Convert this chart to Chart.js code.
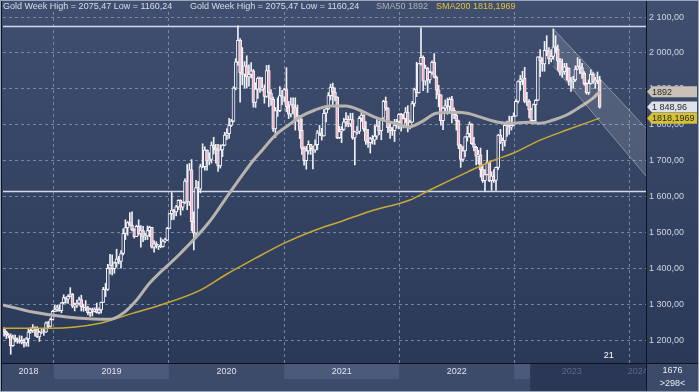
<!DOCTYPE html>
<html><head><meta charset="utf-8">
<script src="https://cdn.jsdelivr.net/npm/chart.js@4.4.0/dist/chart.umd.min.js"></script>
<style>html,body{margin:0;padding:0;background:#3e4c6b;overflow:hidden}#wrap{width:699px;height:392px}</style>
</head><body><div id="wrap"><canvas id="c" width="699" height="392"></canvas></div>
<script>
// ---- data (weekly candles, first week ending 2018-07-27) ----
const firstWeekEnd = [2018, 6, 27];
const opens = [
1231,1223,1214,1212,1184,1206,1201,1196,1194,1199,1192,1203,1222,1227,1235,1232,1209,1222,1223,1222,1248,1238,1257,
1280,1285,1289,1282,1304,1318,1314,1322,1328,1294,1298,1302,1313,1292,1291,1290,1276,1286,1280,1286,1277,1284,1305,1341,1341,1400,1409,1399,1415,1426,1419,1441,1497,1513,1527,1520,1507,1488,1517,1497,1505,1489,1490,1505,1514,1459,1468,1462,1464,1460,1476,1478,
1511,1552,1562,1557,1571,1589,1570,1584,1643,1585,1674,1530,1498,1625,1620,1683,1683,1729,1700,1703,1743,1735,1730,1685,1730,1743,1771,1775,1798,1810,1902,1975,2035,1944,1940,1964,1933,1940,1950,1862,1899,1930,1899,1902,1879,1951,1889,1871,1788,1839,1839,1881,
1877,1898,1850,1829,1856,1848,1814,1824,1784,1734,1700,1727,1745,1733,1729,1744,1777,1777,1769,1832,1844,1881,1905,1891,1877,1764,1781,1787,1808,1815,1802,1814,1763,1780,1781,1818,1827,1788,1754,1750,1761,1757,1768,1796,1783,1818,1865,1846,1792,1783,1783,1798,1809,
1829,1797,1817,1835,1791,1807,1859,1898,1889,1970,1988,1921,1958,1925,1946,1974,1932,1897,1883,1811,1846,1853,1851,1871,1840,1827,1811,1742,1703,1727,1766,1775,1802,1747,1737,1712,1716,1675,1644,1661,1695,1644,1657,1645,1681,1771,1751,1755,1798,1797,1793,1798,
1824,1865,1920,1926,1929,1865,1865,1842,1811,1856,1868,1989,1978,1969,2007,2004,1983,1990,2017,2011,1977,1946,1948,1961,1958,1921,1919,1925,1955,1962,1959,1943,1914,1889,1915,1940,1919,1924,1925];
const highs = [
1234,1225,1219,1217,1214,1214,1206,1212,1211,1203,1207,1233,1234,1243,1237,1237,1225,1230,1230,1251,1252,1261,1283,
1298,1297,1297,1305,1326,1320,1326,1346,1330,1303,1311,1320,1325,1300,1310,1294,1289,1289,1290,1303,1290,1306,1347,1358,1411,1439,1437,1418,1453,1433,1449,1510,1535,1530,1555,1557,1510,1520,1535,1519,1517,1498,1518,1517,1514,1477,1474,1466,1485,1480,1484,1514,
1553,1611,1564,1575,1591,1591,1585,1649,1689,1692,1703,1557,1645,1642,1690,1747,1738,1730,1722,1752,1765,1745,1745,1744,1745,1779,1789,1818,1815,1906,1984,2075.47,2040,2015,1976,1992,1967,1973,1954,1917,1933,1933,1932,1911,1965,1966,1898,1877,1848,1875,1906,1896,
1902,1959,1865,1875,1875,1875,1855,1826,1816,1739,1740,1755,1745,1740,1758,1784,1798,1790,1843,1846,1890,1913,1916,1903,1878,1795,1795,1818,1834,1825,1832,1832,1782,1795,1823,1834,1828,1809,1787,1765,1770,1800,1814,1810,1818,1868,1877,1848,1808,1793,1815,1815,1831,
1832,1830,1848,1853,1813,1865,1902,1974,1970,2070,1992,1966,1960,1949,1978,1998,1936,1910,1884,1849,1869,1874,1876,1879,1847,1830,1813,1745,1739,1767,1795,1808,1803,1765,1740,1729,1735,1688,1675,1729,1696,1669,1675,1682,1773,1787,1763,1804,1810,1824,1823,1833,
1870,1922,1937,1949,1960,1890,1870,1846,1858,1870,1990,2009,1986,2032,2048,2015,2009,2067,2048,2022,1985,1983,1971,1971,1958,1932,1935,1964,1987,1982,1971,1948,1917,1925,1953,1945,1932,1947,1935];
const lows = [
1211,1204,1206,1160.24,1182,1195,1191,1191,1189,1180,1183,1182,1219,1221,1211,1207,1196,1218,1213,1221,1234,1236,1256,
1279,1280,1280,1276,1301,1303,1302,1320,1290,1281,1291,1297,1281,1280,1282,1270,1266,1267,1278,1275,1273,1275,1305,1321,1338,1384,1381,1386,1403,1412,1400,1437,1480,1492,1517,1504,1484,1488,1492,1459,1474,1479,1480,1488,1456,1445,1456,1452,1457,1459,1472,1477,
1510,1535,1536,1546,1563,1548,1562,1580,1563,1575,1504,1451,1484,1567,1610,1680,1673,1673,1688,1693,1718,1693,1670,1679,1711,1741,1758,1762,1795,1807,1897,1965,1863,1911,1902,1902,1907,1930,1849,1848,1873,1890,1894,1860,1876,1850,1854,1781,1764,1823,1836,1856,
1864,1836,1817,1822,1830,1785,1809,1761,1717,1687,1676,1718,1717,1677,1723,1730,1770,1757,1768,1808,1842,1869,1856,1866,1761,1761,1750,1784,1795,1794,1795,1759,1688,1773,1775,1809,1782,1745,1737,1721,1746,1745,1760,1772,1758,1816,1840,1778,1762,1770,1753,1790,1788,
1782,1791,1805,1780,1788,1806,1851,1878,1888,1966,1895,1910,1890,1916,1940,1930,1872,1850,1799,1786,1839,1829,1836,1805,1817,1785,1733,1681,1698,1711,1754,1765,1745,1727,1688,1690,1654,1639,1615,1660,1641,1617,1639,1617,1675,1747,1728,1740,1767,1773,1785,1797,
1824,1861,1896,1911,1861,1853,1819,1805,1804,1809,1867,1934,1949,1949,1992,1969,1975,1982,2000,1952,1938,1932,1940,1925,1910,1893,1902,1921,1953,1942,1929,1910,1885,1884,1913,1915,1901,1914,1846];
const closes = [
1223,1214,1212,1184,1206,1201,1196,1194,1199,1192,1203,1222,1227,1235,1232,1209,1222,1223,1222,1248,1238,1257,1280,
1285,1289,1282,1304,1318,1314,1322,1328,1294,1298,1302,1313,1292,1291,1290,1276,1286,1280,1286,1277,1284,1305,1341,1341,1400,1409,1399,1415,1426,1419,1441,1497,1513,1527,1520,1507,1488,1517,1497,1505,1489,1490,1505,1514,1459,1468,1462,1464,1460,1476,1478,1511,
1552,1562,1557,1571,1589,1570,1584,1643,1585,1674,1530,1498,1625,1620,1683,1683,1729,1700,1703,1743,1735,1730,1685,1730,1743,1771,1775,1798,1810,1902,1975,2035,1944,1940,1964,1933,1940,1950,1862,1899,1930,1899,1902,1879,1951,1889,1871,1788,1839,1839,1881,1877,
1898,1850,1829,1856,1848,1814,1824,1784,1734,1700,1727,1745,1733,1729,1744,1777,1777,1769,1832,1844,1881,1905,1891,1877,1764,1781,1787,1808,1815,1802,1814,1763,1780,1781,1818,1827,1788,1754,1750,1761,1757,1768,1796,1783,1818,1865,1846,1792,1783,1783,1798,1809,1829,
1797,1817,1835,1791,1807,1859,1898,1889,1970,1988,1921,1958,1925,1946,1974,1932,1897,1883,1811,1846,1853,1851,1871,1840,1827,1811,1742,1703,1727,1766,1775,1802,1747,1737,1712,1716,1675,1644,1661,1695,1644,1657,1645,1681,1771,1751,1755,1798,1797,1793,1798,1824,
1865,1920,1926,1929,1865,1865,1842,1811,1856,1868,1989,1978,1969,2007,2004,1983,1990,2017,2011,1977,1946,1948,1961,1958,1921,1919,1925,1955,1962,1959,1943,1914,1889,1915,1940,1919,1924,1925,1848.96];

// moving averages (week index, price)
const sma50Weeks  = [-0.5,13,28.5,43.5,48,54,60,66,80,93,100,107,113,117,123,129,134,141,148,155,161,168,175,180,183,189,196,205,210,216,224,229,238,243,249,255,261,267,270];
const sma50Values = [1298,1278,1264,1258,1258,1275,1311,1359,1442,1529,1590,1651,1701,1729,1771,1799,1821,1841,1852,1852,1841,1821,1807,1799,1793,1807,1832,1835,1832,1821,1807,1804,1807,1804,1813,1827,1849,1874,1892];
const sma200Weeks  = [-0.5,21,43.5,58.5,70.7,89,101,114,127,140,153,166,184,193,210,222,231,243,255,270];
const sma200Values = [1233,1233,1247,1275,1297,1339,1384,1428,1470,1504,1531,1559,1590,1618,1668,1701,1721,1757,1785,1818.1969];

// trend channel and horizontal levels
const channelWeeks = [249, 291];
const channelUpper = [2067, 1790];
const channelLower = [1963, 1657];
const levelLines = [2075.47, 1614];

const yTicks = [1200,1300,1400,1500,1600,1700,1800,1900,2000,2100];
const yearLabels = [2018,2019,2020,2021,2022,2023,2024];
const legendMain = 'Gold Week High = 2075,47 Low = 1160,24';
const legendSma50 = 'SMA50 1892';
const legendSma200 = 'SMA200 1818,1969';
const tagValues = [1892, 1848.96, 1818.1969];
const tagLabels = ['1892', '1 848,96', '1818,1969'];
const cornerTop = '1676', cornerBottom = '>298<', weekNote = '21';
const scrollStartWeek = 238.5;

// ---- helpers ----
const DAY = 86400000;
const t0 = Date.UTC(firstWeekEnd[0], firstWeekEnd[1], firstWeekEnd[2]);
const weekOfYearStart = y => (Date.UTC(y, 0, 1) - t0) / (7 * DAY);
const X_MIN = -0.5, X_MAX = 291;
const FONT = '"Liberation Sans", Arial, sans-serif';
function fmt(v){const s=v.toFixed(2).split('.');return s[0].replace(/\B(?=(\d{3})+(?!\d))/g,' ')+','+s[1];}

const wickData = closes.map((c,i)=>({x:i, y:[lows[i], highs[i]]}));
const bodyData = closes.map((c,i)=>({x:i, y:[opens[i], c]}));
const bodyFill = closes.map((c,i)=> c >= opens[i] ? '#37456a' : '#f0b2c0');

const bgPlugin = {
  id:'bg',
  beforeDraw(chart){
    const {ctx} = chart;
    ctx.save();
    const g = ctx.createLinearGradient(0,0,0,363);
    g.addColorStop(0,'#404f6f'); g.addColorStop(1,'#2b3958');
    ctx.fillStyle = g; ctx.fillRect(0,0,699,363);
    ctx.fillStyle = '#3d4b6a'; ctx.fillRect(0,363,699,29);
    ctx.restore();
  },
  beforeDatasetsDraw(chart){
    const {ctx, chartArea:a, scales:{y}} = chart;
    ctx.save();
    ctx.strokeStyle = '#d3dbea'; ctx.lineWidth = 1.5;
    levelLines.forEach(v=>{
      const py = Math.round(y.getPixelForValue(v)) + 0.5;
      ctx.beginPath(); ctx.moveTo(a.left, py); ctx.lineTo(a.right, py); ctx.stroke();
    });
    ctx.restore();
  },
  afterDraw(chart){
    const {ctx, chartArea:a, scales:{x,y}} = chart;
    ctx.save();
    // bottom year band
    const bandTop = a.bottom + 1, bandH = 15;
    yearLabels.forEach((yr, i)=>{
      const s = Math.max(x.getPixelForValue(Math.max(weekOfYearStart(yr), X_MIN)), a.left);
      const e = Math.min(x.getPixelForValue(Math.min(weekOfYearStart(yr+1), X_MAX)), a.right);
      if (i % 2 === 1) { ctx.fillStyle = '#4b5a7a'; ctx.fillRect(s, bandTop, e - s, bandH); }
    });
    const sx = x.getPixelForValue(scrollStartWeek);
    ctx.fillStyle = '#2a3755'; ctx.fillRect(sx, bandTop, a.right - sx, 392 - bandTop);
    ctx.font = '9px ' + FONT; ctx.textAlign = 'center'; ctx.textBaseline = 'middle';
    ctx.save(); ctx.beginPath(); ctx.rect(0, bandTop, a.right, bandH); ctx.clip();
    yearLabels.forEach((yr)=>{
      const ws = weekOfYearStart(yr), we = weekOfYearStart(yr+1);
      const s = Math.max(x.getPixelForValue(Math.max(ws, X_MIN)), a.left);
      const e = Math.min(x.getPixelForValue(Math.min(we, X_MAX)), a.right);
      ctx.fillStyle = ws > scrollStartWeek - 10 ? '#5b6a8a' : '#dfe4ee';
      ctx.fillText(String(yr), (s + e) / 2, bandTop + 8);
    });
    ctx.restore();
    // separators
    ctx.strokeStyle = '#0e1320'; ctx.lineWidth = 1;
    ctx.beginPath(); ctx.moveTo(0, a.bottom + 0.5); ctx.lineTo(699, a.bottom + 0.5); ctx.stroke();
    ctx.beginPath(); ctx.moveTo(a.right + 0.5, 0); ctx.lineTo(a.right + 0.5, 392); ctx.stroke();
    ctx.beginPath(); ctx.moveTo(1.5, 0); ctx.lineTo(1.5, 392); ctx.stroke();
    // corner cell
    ctx.fillStyle = '#e8ecf4'; ctx.textAlign = 'center';
    ctx.fillText(cornerTop, (a.right + 699) / 2, 371);
    ctx.fillText(cornerBottom, (a.right + 699) / 2, 384);
    // week note
    ctx.fillStyle = '#ffffff';
    ctx.fillText(weekNote, x.getPixelForValue(closes.length - 1) + 9, a.bottom - 7);
    // legend
    ctx.textAlign = 'left';
    ctx.fillStyle = '#d8dde8';
    ctx.fillText(legendMain, 3, 7);
    ctx.fillText(legendMain, 190, 7);
    ctx.fillStyle = '#aeb0b4'; ctx.fillText(legendSma50, 376, 7);
    ctx.fillStyle = '#e2c23c'; ctx.fillText(legendSma200, 436, 7);
    // price tags
    const tagColors = ['#c9c1b6', '#dde1e8', '#d6c034'];
    tagValues.forEach((v, i)=>{
      const py = y.getPixelForValue(v);
      const l = a.right + 1, r = 697;
      ctx.fillStyle = tagColors[i];
      ctx.beginPath();
      ctx.moveTo(l, py); ctx.lineTo(l + 5, py - 5.5); ctx.lineTo(r, py - 5.5);
      ctx.lineTo(r, py + 5.5); ctx.lineTo(l + 5, py + 5.5); ctx.closePath(); ctx.fill();
      ctx.fillStyle = '#2a2a2a';
      ctx.fillText(tagLabels[i], l + 5, py + 0.5);
    });
    // outer frame
    ctx.strokeStyle = '#9aa6bc';
    ctx.strokeRect(0.5, 0.5, 698, 391);
    ctx.restore();
  }
};

new Chart(document.getElementById('c'), {
  type: 'bar',
  data: {
    datasets: [
      { type:'line', data: channelWeeks.map((w,i)=>({x:w, y:channelUpper[i]})), borderColor:'rgba(255,255,255,0.35)', borderWidth:1, backgroundColor:'rgba(255,255,255,0.13)', fill:'+1', pointRadius:0, order:0 },
      { type:'line', data: channelWeeks.map((w,i)=>({x:w, y:channelLower[i]})), borderColor:'rgba(255,255,255,0.35)', borderWidth:1, fill:false, pointRadius:0, order:0 },
      { type:'line', data: sma50Weeks.map((w,i)=>({x:w, y:sma50Values[i]})), borderColor:'#b7b3ae', borderWidth:3, pointRadius:0, cubicInterpolationMode:'monotone', fill:false, order:1 },
      { type:'line', data: sma200Weeks.map((w,i)=>({x:w, y:sma200Values[i]})), borderColor:'#c8aa36', borderWidth:1.5, pointRadius:0, cubicInterpolationMode:'monotone', fill:false, order:2 },
      { type:'bar', data: bodyData, backgroundColor: bodyFill, borderColor:'#f4f4f8', borderWidth:1, borderSkipped:false, barThickness:3, grouped:false, order:3 },
      { type:'bar', data: wickData, backgroundColor:'#eef0f6', barThickness:1, grouped:false, order:4 }
    ]
  },
  options: {
    responsive:false, animation:false, devicePixelRatio:1,
    layout:{ padding:{ left:3, top:12, right:0, bottom:0 } },
    plugins:{ legend:{display:false}, tooltip:{enabled:false}, title:{display:false} },
    scales:{
      x:{ type:'linear', min:X_MIN, max:X_MAX, offset:false,
        afterBuildTicks(s){ s.ticks = yearLabels.slice(1).map(yr=>({value: weekOfYearStart(yr)})); },
        afterFit(s){ s.height = 29; },
        ticks:{ display:false },
        grid:{ color:'rgba(140,156,190,0.75)', lineWidth:1, drawTicks:false, offset:false },
        border:{ display:false, dash:[3,3] } },
      y:{ type:'linear', position:'right', min:1136, max:2114,
        afterBuildTicks(s){ s.ticks = yTicks.map(v=>({value:v})); },
        afterFit(s){ s.width = 53; },
        ticks:{ color:'#cdd5e3', font:{ family:FONT, size:9 }, padding:3, callback:v=>fmt(v) },
        grid:{ color:'rgba(140,156,190,0.75)', lineWidth:1, drawTicks:false },
        border:{ display:false, dash:[3,3] } }
    }
  },
  plugins:[bgPlugin]
});
</script>
</body></html>
